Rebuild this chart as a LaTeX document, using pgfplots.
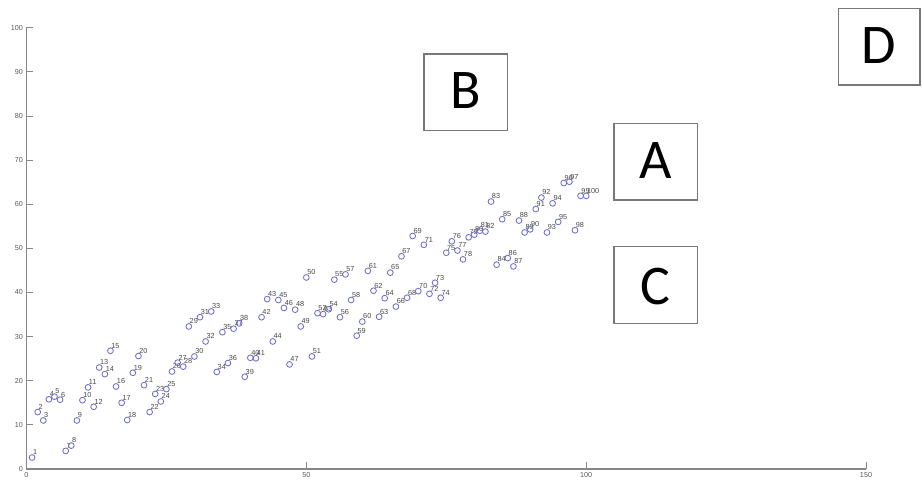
\documentclass[border=0pt]{standalone}
\usepackage{fontspec}
\setmainfont{Liberation Sans}
\newfontfamily\boxfont{Carlito}
\usepackage{pgfplots}
\pgfplotsset{compat=1.18}
\usepackage{pgfplotstable}
\definecolor{mk}{RGB}{110,110,205}
\definecolor{ax}{RGB}{135,135,135}
\definecolor{bx}{RGB}{120,120,120}
\pgfplotstableread{
x y
1 2.6
2 12.9
3 11.0
4 15.8
5 16.4
6 15.7
7 4.1
8 5.3
9 11.0
10 15.6
11 18.5
12 14.1
13 23.0
14 21.5
15 26.8
16 18.7
17 15.0
18 11.1
19 21.8
20 25.6
21 19.0
22 12.9
23 17.0
24 15.3
25 18.1
26 22.1
27 24.1
28 23.2
29 32.3
30 25.5
31 34.4
32 28.9
33 35.7
34 22.0
35 31.0
36 24.0
37 31.8
38 33.0
39 20.9
40 25.2
41 25.1
42 34.4
43 38.5
44 28.9
45 38.3
46 36.5
47 23.7
48 36.1
49 32.3
50 43.4
51 25.5
52 35.3
53 35.1
54 36.2
55 42.9
56 34.4
57 44.1
58 38.3
59 30.2
60 33.4
61 44.9
62 40.4
63 34.5
64 38.7
65 44.5
66 36.8
67 48.2
68 38.8
69 52.8
70 40.3
71 50.8
72 39.7
73 42.2
74 38.8
75 49.0
76 51.6
77 49.5
78 47.5
79 52.5
80 53.1
81 54.0
82 53.8
83 60.6
84 46.3
85 56.6
86 47.8
87 45.9
88 56.3
89 53.6
90 54.3
91 58.9
92 61.5
93 53.6
94 60.2
95 56.0
96 64.8
97 65.1
98 54.1
99 61.9
100 61.9
}\datatable
\begin{document}
\begin{tikzpicture}
\path[use as bounding box] (0pt,0pt) rectangle (922pt,482pt);
\begin{axis}[
  at={(26.5pt,13pt)}, anchor=south west,
  width=839.5pt, height=441.3pt, scale only axis,
  xmin=0, xmax=150, ymin=0, ymax=100,
  axis lines*=left,
  axis line style={ax, line width=1.4pt},
  xtick={0,50,100,150},
  ytick={0,10,...,100},
  tick align=inside,
  major tick length=7pt,
  tick style={ax, line width=0.9pt},
  every tick label/.append style={font=\fontsize{7.2}{8}\selectfont, text=black!65},
  /pgf/number format/assume math mode=true,
  clip=false,
]
\addplot[only marks, mark=o, mark size=2.9pt, mk, mark options={line width=0.85pt},
  point meta=x,
  nodes near coords,
  nodes near coords style={anchor=south west, inner sep=0pt, xshift=0.5pt, yshift=2.2pt,
     font=\fontsize{7.3}{8}\selectfont, text=black!72,
     /pgf/number format/assume math mode=true}
] table {\datatable};
\end{axis}
\begin{scope}[bx, line width=1.3pt]
\draw (614pt,282pt) rectangle (697.3pt,358.7pt);
\draw (424pt,351.3pt) rectangle (507.3pt,428pt);
\draw (614pt,158.7pt) rectangle (697.3pt,235.3pt);
\draw (838.3pt,397pt) rectangle (920pt,473.7pt);
\end{scope}
\begin{scope}[every node/.style={font=\boxfont\fontsize{56}{60}\selectfont, text=black, inner sep=0pt}]
\node at (655.6pt,321pt) {A};
\node at (465.6pt,391pt) {B};
\node at (655.6pt,195pt) {C};
\node at (879.2pt,436pt) {D};
\end{scope}
\end{tikzpicture}
\end{document}
